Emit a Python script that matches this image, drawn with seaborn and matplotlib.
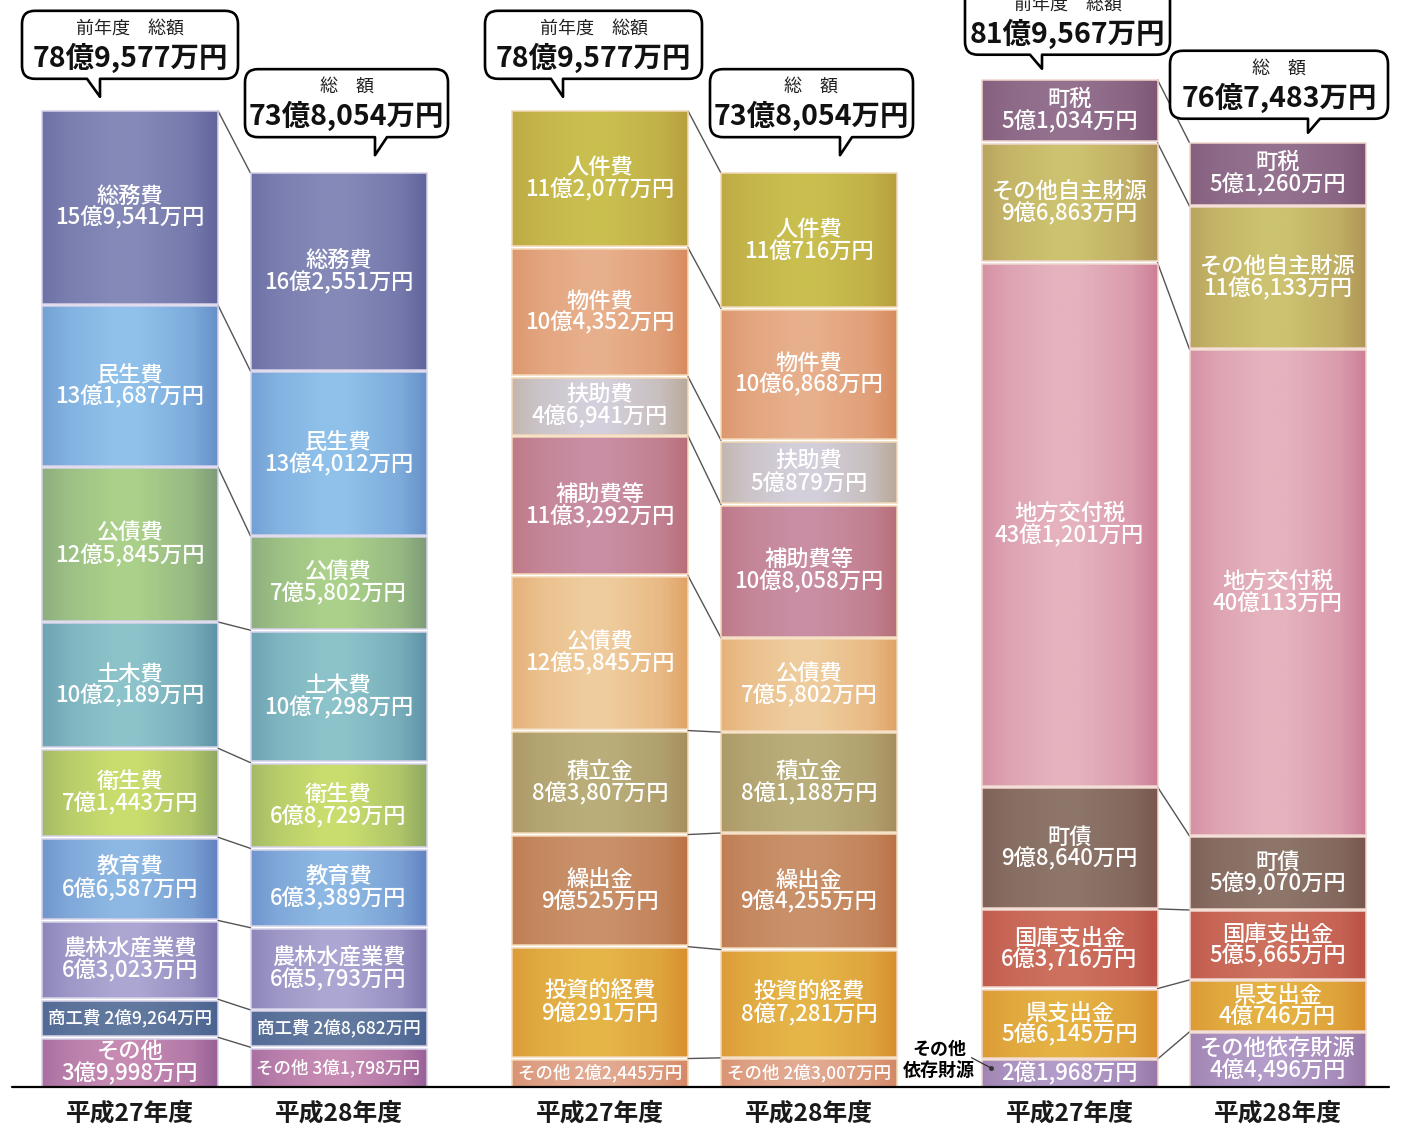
import numpy as np
import matplotlib
matplotlib.use("Agg")
import matplotlib.pyplot as plt
from matplotlib.path import Path
from matplotlib.patches import PathPatch, Rectangle
import matplotlib.colors as mcolors
import seaborn as sns

# ---------------- data (万円) ----------------
years = ["平成27年度", "平成28年度"]

purpose_items = ["総務費", "民生費", "公債費", "土木費", "衛生費", "教育費", "農林水産業費", "商工費", "その他"]
purpose_h27 = [159541, 131687, 125845, 102189, 71443, 66587, 63023, 29264, 39998]
purpose_h28 = [162551, 134012, 75802, 107298, 68729, 63389, 65793, 28682, 31798]

nature_items = ["人件費", "物件費", "扶助費", "補助費等", "公債費", "積立金", "繰出金", "投資的経費", "その他"]
nature_h27 = [112077, 104352, 46941, 113292, 125845, 83807, 90525, 90291, 22445]
nature_h28 = [110716, 106868, 50879, 108058, 75802, 81188, 94255, 87281, 23007]

revenue_items = ["町税", "その他自主財源", "地方交付税", "町債", "国庫支出金", "県支出金", "その他依存財源"]
revenue_h27 = [51034, 96863, 431201, 98640, 63716, 56145, 21968]
revenue_h28 = [51260, 116133, 400113, 59070, 55665, 40746, 44496]

totals_h27 = [789577, 789577, 819567]
totals_h28 = [738054, 738054, 767483]

# ---------------- styles ----------------
purpose_colors = [("#8589b8", "#62659c"), ("#8fc1ea", "#6690c9"), ("#aad08a", "#7e9c78"),
                  ("#8cc3ca", "#5e93a7"), ("#c9dd6e", "#8fa861"), ("#8db8e3", "#6283c1"),
                  ("#aca6d2", "#7d76ae"), ("#62799f", "#4a6390"), ("#c68bb3", "#9a6198")]
nature_colors = [("#c9bf4f", "#b89f3e"), ("#e7af8b", "#d88b5f"), ("#d3cfdb", "#b9a999"),
                 ("#c98ea3", "#b86f7a"), ("#efcc9d", "#e0a366"), ("#b9ae7a", "#a68f5e"),
                 ("#c9916a", "#bb7347"), ("#e5b548", "#d78f2f"), ("#e2aa92", "#d48866")]
revenue_colors = [("#94728f", "#7d5676"), ("#ccc26f", "#b09656"), ("#e5b2be", "#cd8098"),
                  ("#8d7569", "#785850"), ("#cd705e", "#bb5246"), ("#e5b244", "#d78f2f"),
                  ("#b39cc9", "#9878a8")]

sns.set_theme(style="white")
plt.rcParams["font.family"] = ["Noto Sans CJK JP", "DejaVu Sans"]

W_PX, H_PX = 1407, 1130
BASE_PX = 1087          # baseline position from top (px)
SCALE = 0.00121         # px per 万円
GAP = 2.6 / SCALE       # white gap between segments
BAR_W = 176

fig = plt.figure(figsize=(W_PX / 100, H_PX / 100), dpi=100)
ax = fig.add_axes([0, 0, 1, 1])
ax.set_facecolor("white")


def to_px(v):
    return BASE_PX - v * SCALE


def to_data(ypx):
    return (BASE_PX - ypx) / SCALE


def fmt(v):
    oku, man = divmod(int(v), 10000)
    s = f"{oku}億" if oku else ""
    if man:
        s += f"{man:,}"
    return s + "万円"


stops_t = [0.0, 0.15, 0.40, 0.55, 0.85, 1.0]
stops_w = [0.35, 0.7, 1.0, 1.0, 0.55, 0.0]
tt = np.linspace(0, 1, 128)
ww = np.interp(tt, stops_t, stops_w)

groups = [
    dict(items=purpose_items, vals=(purpose_h27, purpose_h28), centers=(130, 338.5),
         colors=purpose_colors, border="#d6d2ea",
         modes={(0, "商工費"): "one", (1, "商工費"): "one", (1, "その他"): "one"}),
    dict(items=nature_items, vals=(nature_h27, nature_h28), centers=(600, 809),
         colors=nature_colors, border="#f3d8b8",
         modes={(0, "その他"): "one", (1, "その他"): "one"}),
    dict(items=revenue_items, vals=(revenue_h27, revenue_h28), centers=(1069.5, 1277.5),
         colors=revenue_colors, border="#f0d6cc", modes={(0, "その他依存財源"): "value"}),
]

LABEL_FS = 16
ONE_FS = 12.6
WEIGHT = "medium"

tops_px = []
for g in groups:
    bounds = []
    for yi, vals in enumerate(g["vals"]):
        cx = g["centers"][yi]
        n = len(vals)
        bottoms = [0.0] * n
        b = 0.0
        for k in range(n - 1, -1, -1):
            bottoms[k] = b
            b += vals[k] + GAP
        segs = []
        for k in range(n):
            center, edge = g["colors"][k]
            sns.barplot(x=[cx], y=[vals[k]], native_scale=True, width=BAR_W, bottom=bottoms[k],
                        color=center, saturation=1, errorbar=None, ax=ax, linewidth=0, zorder=1)
            rect = ax.patches[-1]
            c1 = np.array(mcolors.to_rgb(center))
            c0 = np.array(mcolors.to_rgb(edge))
            img = (c0[None, :] + ww[:, None] * (c1 - c0)[None, :])[None, :, :]
            im = ax.imshow(img, extent=[cx - BAR_W / 2, cx + BAR_W / 2, bottoms[k], bottoms[k] + vals[k]],
                           aspect="auto", origin="lower", interpolation="bilinear", zorder=2)
            im.set_clip_path(rect)
            ax.add_patch(Rectangle((cx - BAR_W / 2, bottoms[k]), BAR_W, vals[k], fill=False,
                                   edgecolor=g["border"], linewidth=1.1, zorder=3))
            segs.append((bottoms[k] + vals[k], bottoms[k]))
            name = g["items"][k]
            mode = g["modes"].get((yi, name), "two")
            ymid = bottoms[k] + vals[k] / 2
            if mode == "two":
                txt, fs = f"{name}\n{fmt(vals[k])}", LABEL_FS
            elif mode == "one":
                txt, fs = f"{name} {fmt(vals[k])}", ONE_FS
            else:
                txt, fs = fmt(vals[k]), LABEL_FS
            ax.text(cx, ymid, txt, ha="center", va="center", color="white", fontsize=fs,
                    fontweight=WEIGHT, linespacing=0.92, zorder=4)
            if mode == "value":
                ypx = to_px(ymid)
                ax.text(cx - BAR_W / 2 - 42, to_data(ypx - 24), "その他", ha="center",
                        va="center", fontsize=13, fontweight="bold", color="black", zorder=4)
                ax.text(cx - BAR_W / 2 - 43, to_data(ypx - 3), "依存財源", ha="center",
                        va="center", fontsize=13, fontweight="bold", color="black", zorder=4)
                ax.plot([cx - BAR_W / 2 - 10, cx - BAR_W / 2 + 9],
                        [to_data(ypx - 16), to_data(ypx - 6)], color="#333333", lw=0.9, zorder=4)
                ax.plot([cx - BAR_W / 2 + 9], [to_data(ypx - 6)], "o", color="#333333", ms=2.5, zorder=4)
        bounds.append(segs)
        tops_px.append(to_px(segs[0][0]))
    # connector lines between the two years
    x_a = g["centers"][0] + BAR_W / 2
    x_b = g["centers"][1] - BAR_W / 2
    n = len(g["items"])
    for k in range(n):
        if k == 0:
            ya, yb = bounds[0][0][0], bounds[1][0][0]
        else:
            ya = (bounds[0][k - 1][1] + bounds[0][k][0]) / 2
            yb = (bounds[1][k - 1][1] + bounds[1][k][0]) / 2
        ax.plot([x_a, x_b], [ya, yb], color="#555555", lw=1.0, zorder=1)

# year labels and baseline
for g in groups:
    for yi, cx in enumerate(g["centers"]):
        ax.text(cx, to_data(1114), years[yi], ha="center", va="center",
                fontsize=17.8, fontweight="bold", color="#1a1a1a")
ax.plot([12, 1389], [0, 0], color="black", lw=1.6, zorder=5)

ax.set_xlim(0, W_PX)
ax.set_ylim(to_data(H_PX), to_data(0))
ax.axis("off")

# ---------------- speech bubbles (overlay, pixel coordinates) ----------------
ov = fig.add_axes([0, 0, 1, 1], zorder=10)
ov.set_xlim(0, W_PX)
ov.set_ylim(H_PX, 0)
ov.axis("off")
ov.patch.set_alpha(0)


def bubble(x0, x1, tip_y, base_l, base_r, tip_x, head, value, box_h=68, tail=18, r=13):
    y1 = tip_y - tail
    y0 = y1 - box_h
    verts = [(x0 + r, y0), (x1 - r, y0), (x1, y0), (x1, y0 + r), (x1, y1 - r), (x1, y1), (x1 - r, y1),
             (base_r, y1), (tip_x, tip_y), (base_l, y1), (x0 + r, y1), (x0, y1), (x0, y1 - r),
             (x0, y0 + r), (x0, y0), (x0 + r, y0), (x0 + r, y0)]
    codes = [Path.MOVETO, Path.LINETO, Path.CURVE3, Path.CURVE3, Path.LINETO, Path.CURVE3, Path.CURVE3,
             Path.LINETO, Path.LINETO, Path.LINETO, Path.LINETO, Path.CURVE3, Path.CURVE3,
             Path.LINETO, Path.CURVE3, Path.CURVE3, Path.CLOSEPOLY]
    ov.add_patch(PathPatch(Path(verts, codes), facecolor="white", edgecolor="black", lw=1.9,
                           joinstyle="round"))
    xc = (x0 + x1) / 2
    ov.text(xc, y0 + 18, head, ha="center", va="center", fontsize=13, color="#222222")
    ov.text(xc, y0 + 47, value, ha="center", va="center", fontsize=20.5, fontweight="bold",
            color="#111111")


bubble_boxes = [  # (x0, x1, base_l, base_r, tip_x, offset above bar top)
    (22, 238, 87, 100, 100, 14),
    (245, 448, 375, 387, 375, 18),
    (485, 702, 551, 563, 563, 14),
    (710, 913, 840, 852, 840, 18),
    (965, 1170, 1030, 1042, 1042, 11),
    (1170, 1388, 1308, 1320, 1308, 10),
]
totals_seq = [totals_h27[0], totals_h28[0], totals_h27[1], totals_h28[1], totals_h27[2], totals_h28[2]]
for i, (x0, x1, bl, br, tx, off) in enumerate(bubble_boxes):
    head = "前年度　総額" if i % 2 == 0 else "総　額"
    tail = 18 if i < 4 else 14
    bubble(x0, x1, tops_px[i] - off, bl, br, tx, head, fmt(totals_seq[i]), tail=tail)

fig.savefig("out.png", dpi=100, facecolor="white")
